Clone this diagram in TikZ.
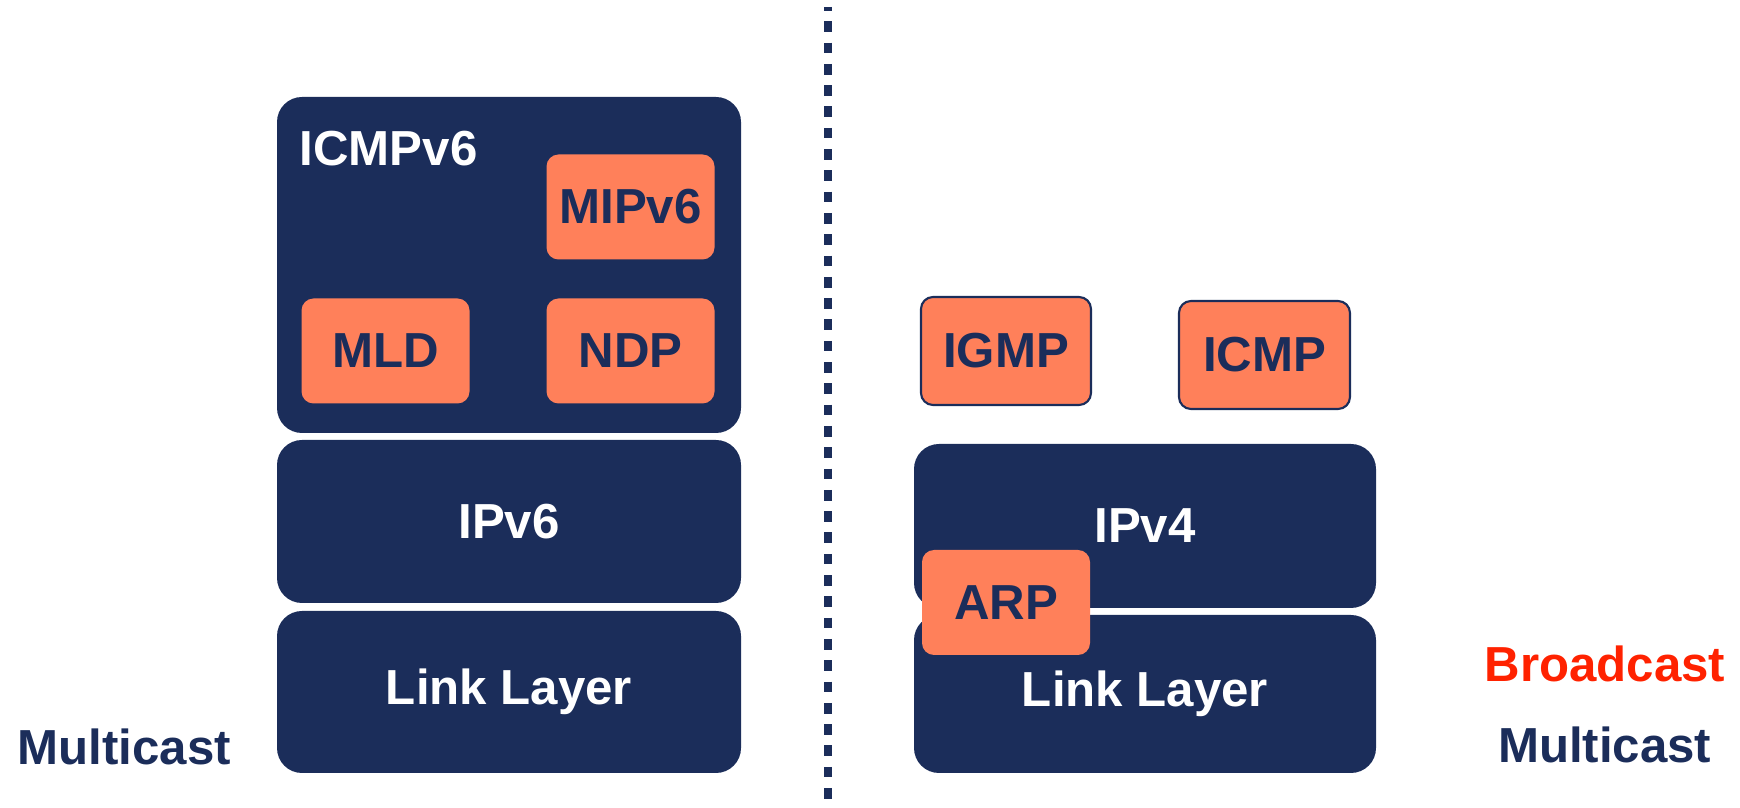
\documentclass[tikz,border=0pt]{standalone}
\usepackage{fontspec}
\setmainfont{Liberation Sans}
\definecolor{navy}{RGB}{27,45,90}
\definecolor{coral}{RGB}{255,128,90}
\definecolor{bred}{RGB}{255,34,0}
\begin{document}
\begin{tikzpicture}[
    font=\fontsize{14}{17}\selectfont\bfseries,
    layer/.style={fill=navy, rounded corners=0.25cm, text=white, minimum width=4.64cm},
    proto/.style={fill=coral, rounded corners=0.12cm, text=navy, minimum width=1.68cm, minimum height=1.05cm},
    label/.style={inner sep=0pt}
  ]
      \useasboundingbox (0,0) rectangle (17.4,8.08);
      % IPv6 stack
      \node[layer, minimum height=3.36cm] (ICMPv6) at (5.09,5.43) {};
      \node[label, white, anchor=base west] (ICMPv6L) at (2.99,6.42) {ICMPv6};
      \node[proto] (MIPv6) at (6.305,6.01) {MIPv6};
      \node[proto] (MLD) at (3.855,4.57) {MLD};
      \node[proto] (NDP) at (6.305,4.57) {NDP};
      \node[layer, minimum height=1.63cm] (IPv6) at (5.09,2.865) {IPv6};
      \node[layer, minimum height=1.62cm] (LinkL) at (5.09,1.16) {Link Layer};
      \node[label, navy, anchor=base west] (McastL) at (0.17,0.43) {Multicast};
      % separator
      \draw[navy, line width=0.087cm, dash pattern=on 0.107cm off 0.106cm, dash phase=0.07cm] (8.28,8.01) -- (8.28,0);
      % IPv4 stack
      \node[proto, draw=navy, line width=0.6pt, minimum width=1.70cm, minimum height=1.08cm] (IGMP) at (10.06,4.57) {IGMP};
      \node[proto, draw=navy, line width=0.6pt, minimum width=1.71cm, minimum height=1.08cm] (ICMP) at (12.645,4.53) {ICMP};
      \node[layer, minimum width=4.62cm, minimum height=1.64cm] (IPv4) at (11.45,2.82) {IPv4};
      \node[layer, minimum width=4.62cm, minimum height=1.58cm] (LinkR) at (11.45,1.14) {\raisebox{-0.05cm}{Link Layer}};
      \node[proto] (ARP) at (10.06,2.055) {ARP};
      \node[label, bred, anchor=base east] (Bcast) at (17.26,1.26) {Broadcast};
      \node[label, navy, anchor=base east] (McastR) at (17.12,0.45) {Multicast};
\end{tikzpicture}
\end{document}
